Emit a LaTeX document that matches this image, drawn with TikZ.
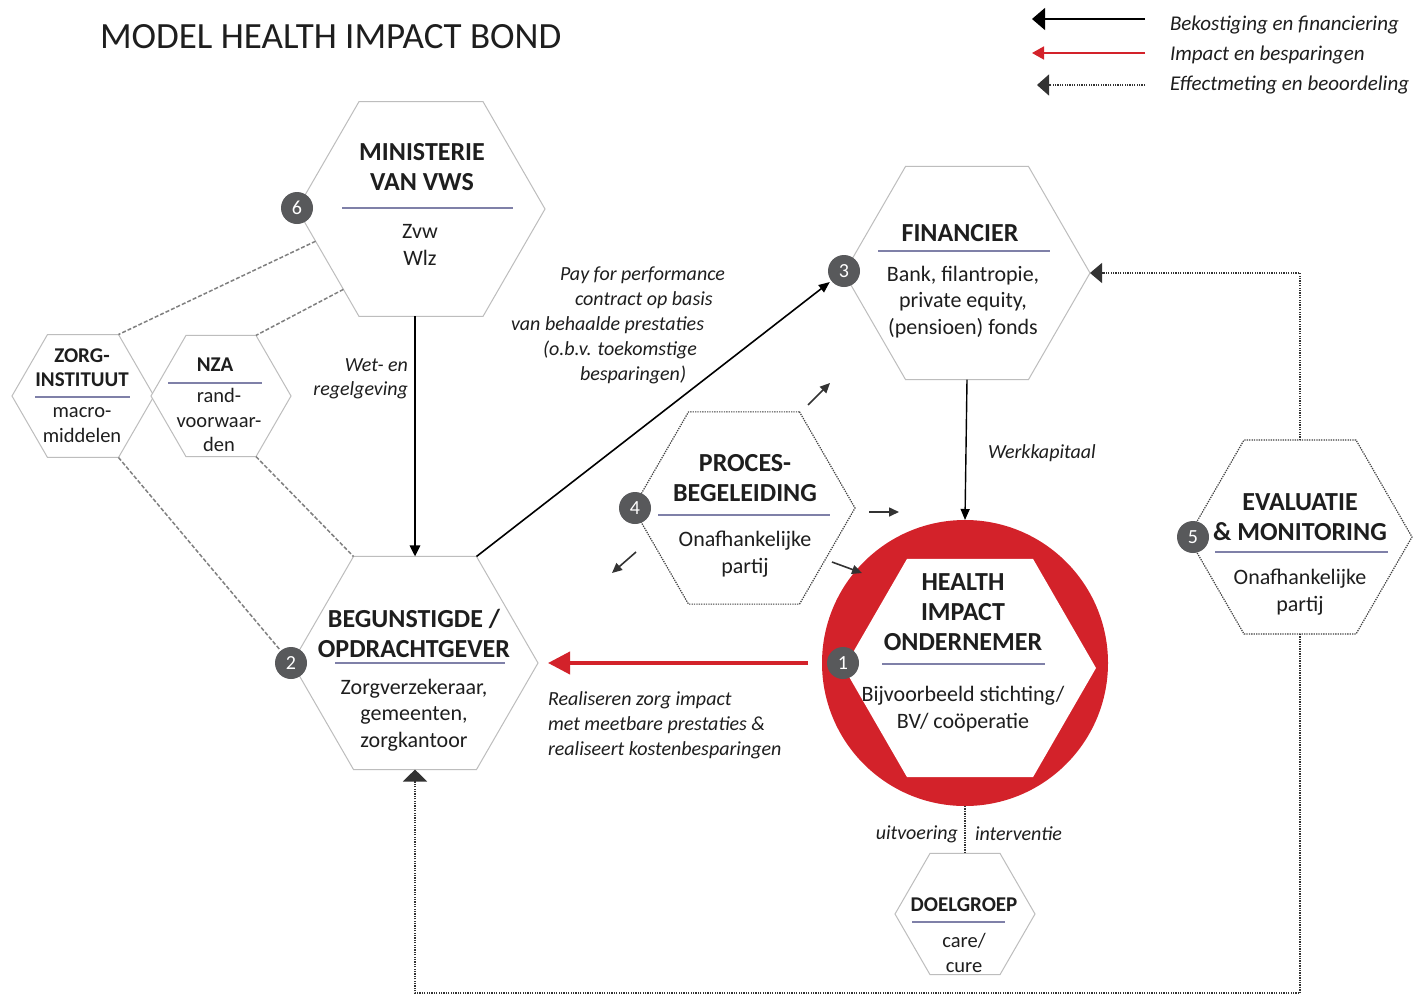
\documentclass[tikz,border=0pt]{standalone}
\usepackage{fontspec}
\setmainfont{Carlito}
\usetikzlibrary{shapes.geometric,arrows.meta,calc}
\definecolor{hexgrey}{HTML}{BDBDBD}
\definecolor{rulec}{HTML}{7F80A8}
\definecolor{hibred}{HTML}{D3222A}
\definecolor{badgec}{HTML}{58595B}
\definecolor{txt}{HTML}{1E1E1E}
\begin{document}
\begin{tikzpicture}[x=1pt,y=-1pt,
  every node/.style={text=txt, inner sep=0pt, outer sep=0pt},
  hexg/.style={regular polygon, regular polygon sides=6, draw=hexgrey, fill=white, line width=1pt, minimum size=#1},
  hexd/.style={regular polygon, regular polygon sides=6, draw=black!75, fill=white, line width=1.2pt, dash pattern=on 1.3pt off 1.1pt, minimum size=#1},
  ttl/.style={font=\bfseries\fontsize{26}{30}\selectfont, align=center},
  bdy/.style={font=\fontsize{22}{26.5}\selectfont, align=center},
  sttl/.style={font=\bfseries\fontsize{21}{24}\selectfont, align=center},
  sbdy/.style={font=\fontsize{20.5}{24.5}\selectfont, align=center},
  lbl/.style={font=\itshape\fontsize{20}{25}\selectfont},
  lgd/.style={font=\itshape\fontsize{21}{25}\selectfont, anchor=west},
  badge/.style={circle, fill=badgec, minimum size=32pt, text=white, font=\fontsize{20}{20}\selectfont},
  rul/.style={draw=rulec, line width=1.5pt},
  dotl/.style={draw=black!80, line width=1.3pt, dash pattern=on 1.3pt off 1.1pt},
  dsh/.style={draw=black!50, line width=1.5pt, dash pattern=on 4pt off 2pt},
  sarr/.style={draw=black!80, line width=1.6pt, -{Triangle[length=10pt,width=9pt]}}
]
\fill[white] (0,0) rectangle (1416,996);
\useasboundingbox (0,0) rectangle (1416,996);

% title
\node[anchor=west, font=\fontsize{37}{40}\selectfont] (title) at (100,37) {MODEL HEALTH IMPACT BOND};

% legend
\coordinate (l1s) at (1145,19); \coordinate (l1e) at (1032,19);
\coordinate (l2s) at (1145,53); \coordinate (l2e) at (1032,53);
\coordinate (l3s) at (1145,85); \coordinate (l3e) at (1037,85);
\draw[line width=1.3pt, -{Triangle[length=13pt,width=22pt]}] (l1s) -- (l1e);
\draw[hibred, line width=1.8pt, -{Triangle[length=12pt,width=13pt]}] (l2s) -- (l2e);
\draw[dotl, -{Triangle[length=12pt,width=21pt]}] (l3s) -- (l3e);
\node[lgd] (lg1) at (1170,25) {Bekostiging en financiering};
\node[lgd] (lg2) at (1170,55) {Impact en besparingen};
\node[lgd] (lg3) at (1170,85) {Effectmeting en beoordeling};

% hexagons
\node[hexg=248] (min) at (421,209) {};
\node[hexg=142] (zorg) at (83,396) {};
\node[hexg=140] (nza) at (221,396) {};
\node[hexg=246] (beg) at (415,663) {};
\node[hexg=246] (fin) at (967,273) {};
\node[hexd=222] (proc) at (744,508) {};
\node[hexd=224] (eval) at (1300,537) {};
\node[hexg=140] (doel) at (965,914) {};
\node[circle, fill=hibred, minimum size=286pt] (circ) at (965,663) {};
\node[regular polygon, regular polygon sides=6, fill=white, minimum size=252pt] (hin) at (970,668) {};

% dashed relations
\draw[dsh] (min.197) -- (zorg.60);
\draw[dsh] (min.226) -- (nza.60);
\draw[dsh] (nza.-60) -- (beg.120);

% badges
\node[badge] (b6) at (297,208) {6};
\node[badge] (b3) at (844,271) {3};
\node[badge] (b4) at (635,508) {4};
\node[badge] (b2) at (291,663) {2};
\node[badge] (b1) at (843,663) {1};
\node[badge] (b5) at (1193,537) {5};

\draw[dsh, shorten >=2pt] (zorg.-60) -- (b2);

% connectors
\draw[line width=2.5pt, -{Triangle[length=11pt,width=10pt]}] (beg.north |- min.south) -- (beg.north);
\draw[line width=1.6pt, -{Triangle[length=11pt,width=9pt]}, shorten >=2pt] (beg.60) -- (b3);
\draw[line width=1.4pt, -{Triangle[length=11pt,width=9pt]}] (fin.south) -- (circ.north);
\draw[hibred, line width=4pt, -{Triangle[length=22pt,width=22pt]}, shorten <=14pt, shorten >=10pt] (circ.west) -- (beg.east);
\draw[dotl, -{Triangle[length=12pt,width=20pt]}] (eval.north) |- (fin.east);
\coordinate (bot) at (1300,993);
\draw[dotl, -{Triangle[length=12pt,width=24pt]}] (eval.south) -- (bot) -| (beg.south);
\draw[dotl] (circ.south) -- (doel.north);

% small arrows around proces
\coordinate (s1a) at (808,405); \coordinate (s1b) at (830,383);
\coordinate (s2a) at (869,512); \coordinate (s2b) at (899,512);
\coordinate (s3a) at (832,562); \coordinate (s3b) at (862,573);
\coordinate (s4a) at (636,552); \coordinate (s4b) at (612,573);
\draw[sarr] (s1a) -- (s1b);
\draw[sarr] (s2a) -- (s2b);
\draw[sarr] (s3a) -- (s3b);
\draw[sarr] (s4a) -- (s4b);

% hex texts
\node[ttl] (minT) at (422,167) {MINISTERIE\\VAN VWS};
\draw[rul] (342,208) -- (513,208);
\node[bdy] (minB) at (420,245) {Zvw\\Wlz};

\node[ttl] (finT) at (960,233) {FINANCIER};
\draw[rul] (878,251) -- (1050,251);
\node[bdy] (finB) at (963,302) {Bank, filantropie,\\private equity,\\(pensioen) fonds};

\node[ttl] (begT) at (414,633) {BEGUNSTIGDE /\\OPDRACHTGEVER};
\draw[rul] (335,663) -- (505,663);
\node[bdy] (begB) at (414,715) {Zorgverzekeraar,\\gemeenten,\\zorgkantoor};

\node[ttl] (procT) at (745,478) {PROCES-\\BEGELEIDING};
\draw[rul] (658,515) -- (830,515);
\node[bdy] (procB) at (745,554) {Onafhankelijke\\partij};

\node[ttl] (evalT) at (1300,517) {EVALUATIE\\\& MONITORING};
\draw[rul] (1215,552) -- (1388,552);
\node[bdy] (evalB) at (1300,592) {Onafhankelijke\\partij};

\node[ttl] (hinT) at (963,612) {HEALTH\\IMPACT\\ONDERNEMER};
\draw[rul] (882,664) -- (1045,664);
\node[bdy] (hinB) at (963,709) {Bijvoorbeeld stichting/\\BV/ coöperatie};

\node[sttl] (zorgT) at (82,368) {ZORG-\\INSTITUUT};
\draw[rul] (35,397) -- (130,397);
\node[sbdy] (zorgB) at (82,425) {macro-\\middelen};

\node[sttl] (nzaT) at (215,365) {NZA};
\draw[rul] (168,383) -- (262,383);
\node[sbdy] (nzaB) at (219,420) {rand-\\voorwaar-\\den};

\node[sttl] (doelT) at (964,905) {DOELGROEP};
\draw[rul] (912,922) -- (1005,922);
\node[sbdy] (doelB) at (964,953) {care/\\cure};

% labels
\node[lbl, anchor=east] (w1) at (408,365) {Wet- en};
\node[lbl, anchor=east] (w2) at (408,390) {regelgeving};
\node[lbl, anchor=west] (p1) at (560,275) {Pay for performance};
\node[lbl, anchor=west] (p2) at (575,300) {contract op basis};
\node[lbl, anchor=west] (p3) at (511,325) {van behaalde prestaties};
\node[lbl, anchor=west] (p4) at (543,350) {(o.b.v. toekomstige};
\node[lbl, anchor=west] (p5) at (580,375) {besparingen)};
\node[lbl, anchor=west] (wk) at (988,453) {Werkkapitaal};
\node[lbl, anchor=west] (r1) at (548,700) {Realiseren zorg impact};
\node[lbl, anchor=west] (r2) at (548,725) {met meetbare prestaties \&};
\node[lbl, anchor=west] (r3) at (548,750) {realiseert kostenbesparingen};
\node[lbl, anchor=east] (u1) at (958,834) {uitvoering};
\node[lbl, anchor=west] (u2) at (975,834) {interventie};
\end{tikzpicture}
\end{document}
